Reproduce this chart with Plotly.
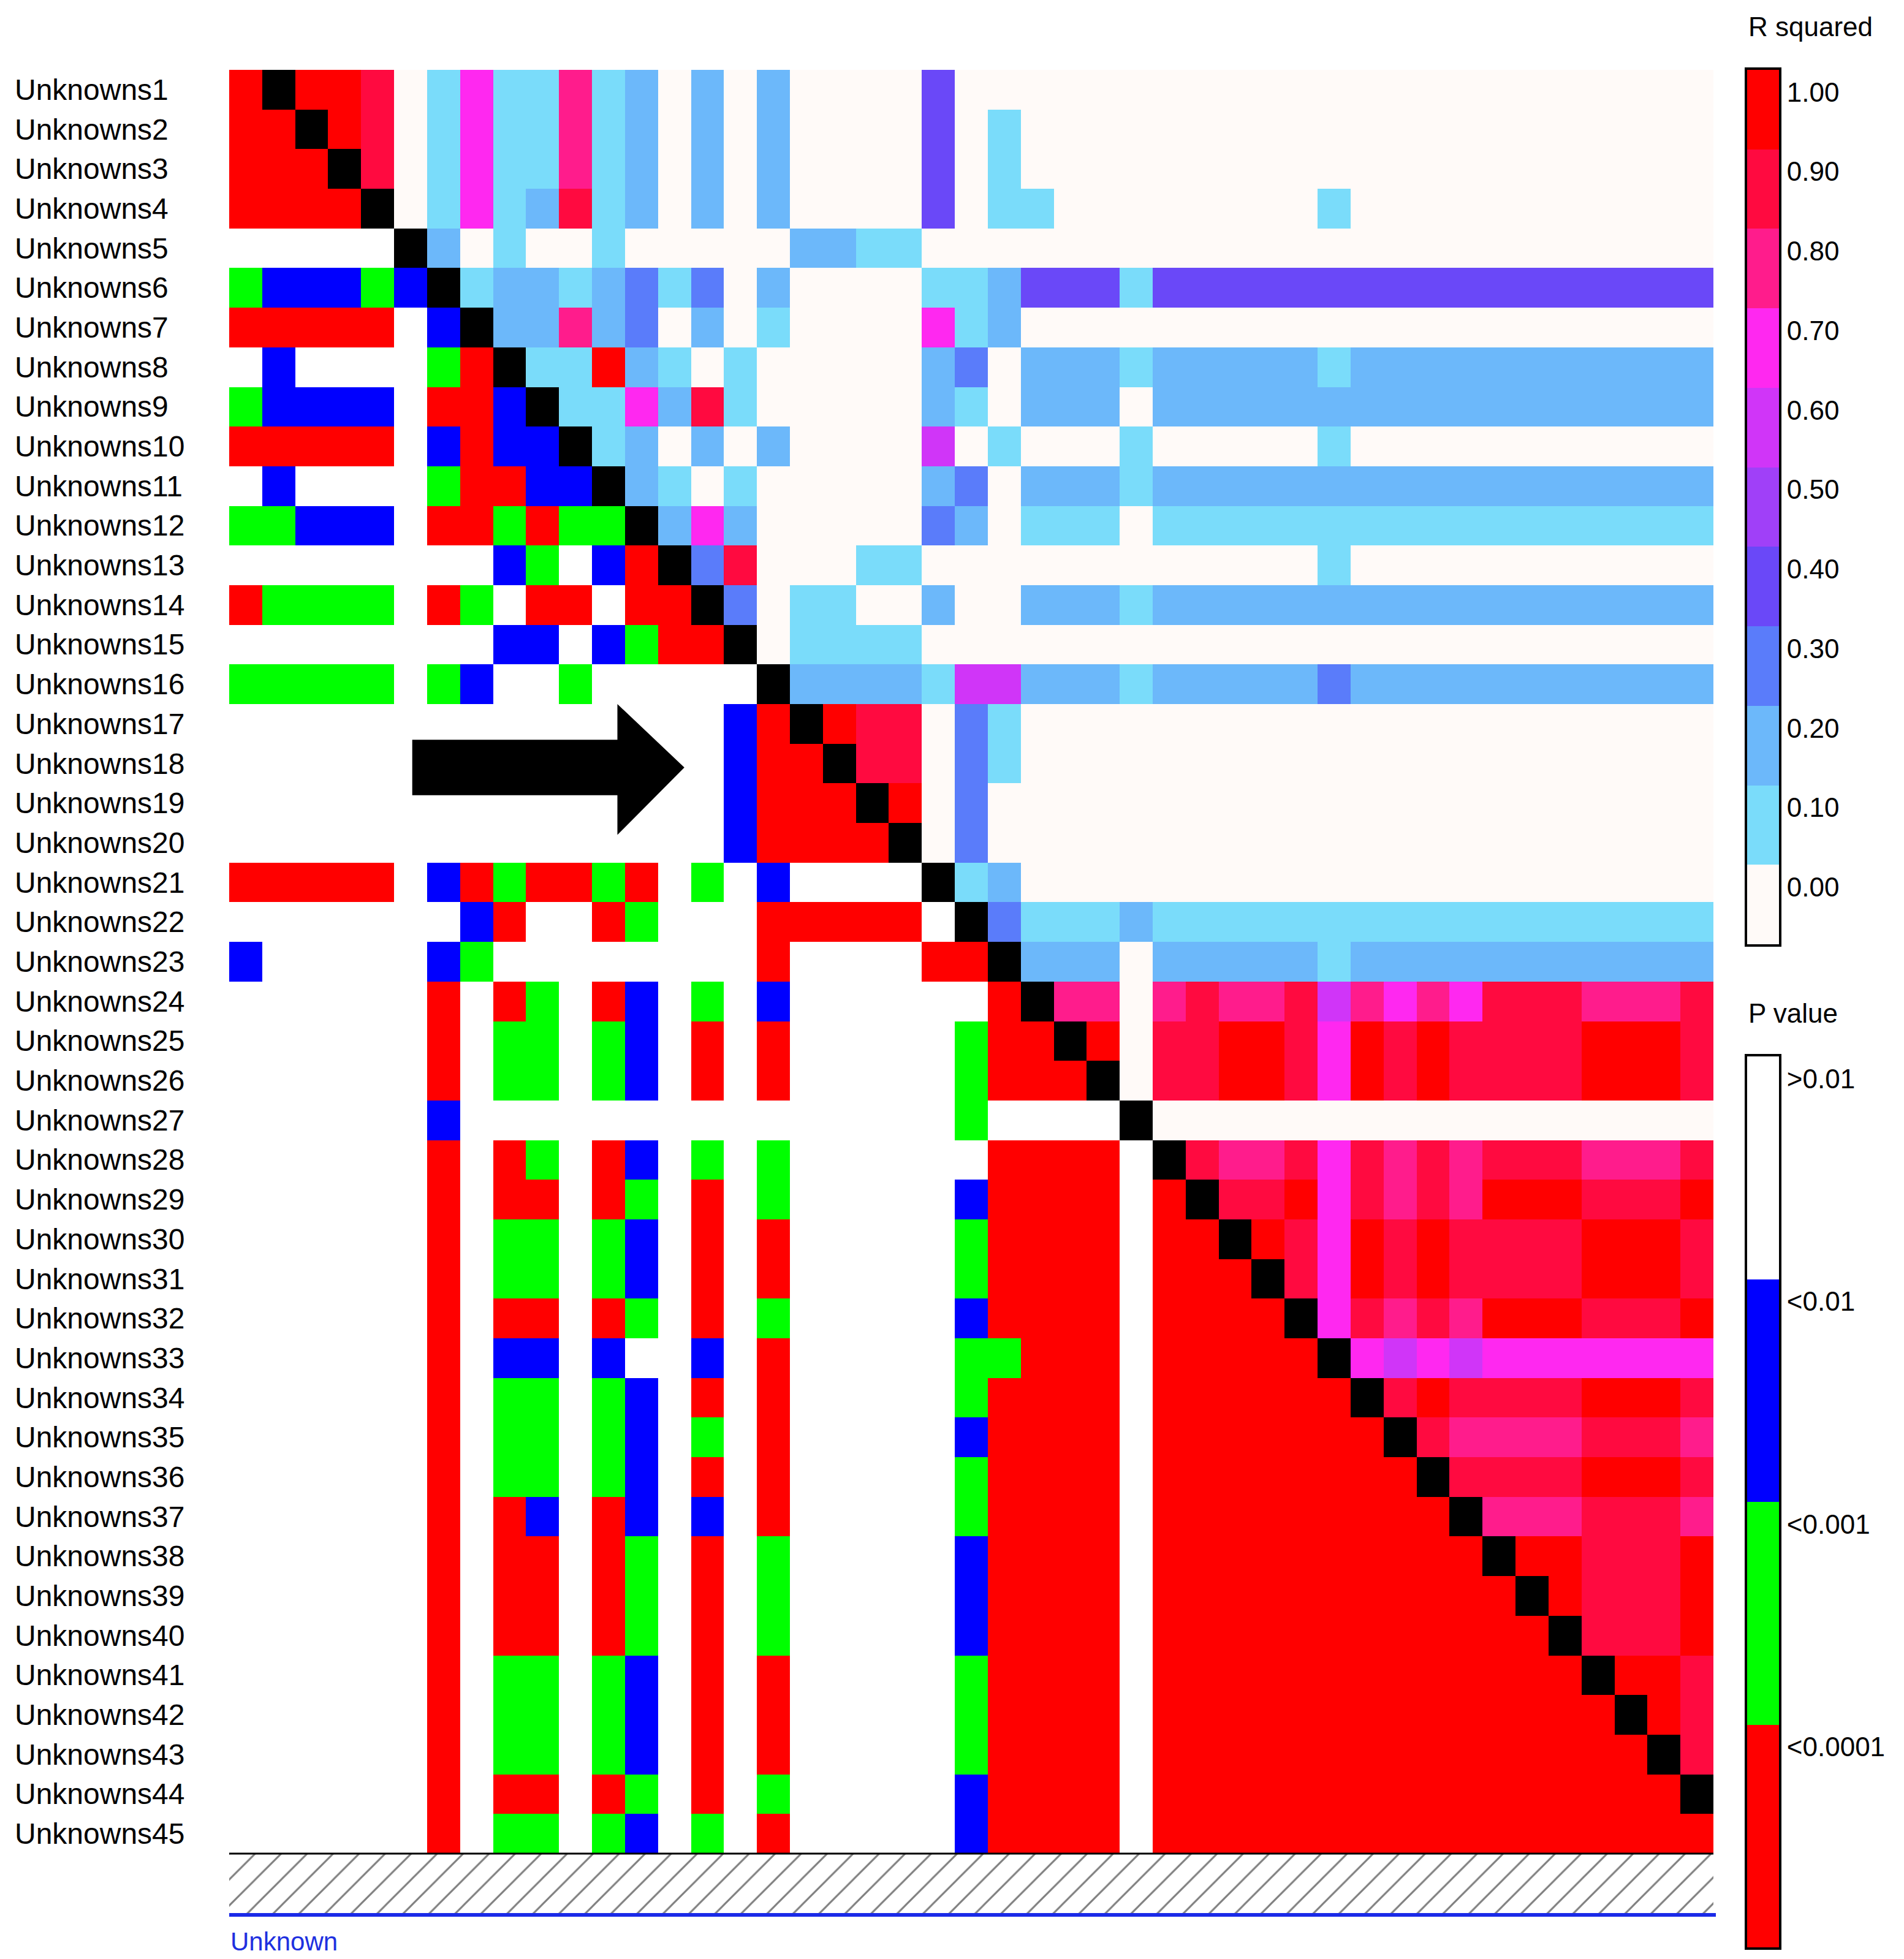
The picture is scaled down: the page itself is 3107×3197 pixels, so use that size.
import plotly.graph_objects as go

W, H = 3107, 3197

# marker names
markers = [f"Unknowns{i}" for i in range(1, 46)]

# one string per row; left of the black cell = P value class (w/b/g/r),
# k = diagonal, right of it = R squared bin ('0'..'9', 'X' = 1.0)
rows = [
    "rkXX9" + "0171181202020000" + "4" + "0" * 23,
    "rrkX9" + "0171181202020000" + "4" + "0" + "1" + "0" * 21,
    "rrrk9" + "0171181202020000" + "4" + "0" + "1" + "0" * 21,
    "rrrrk" + "0171291202020000" + "4" + "0" + "11" + "0" * 8 + "1" + "0" * 11,
    "wwwwwk" + "201001000002211" + "0" * 24,
    "gbbbgbk" + "12212313020000" + "112" + "444" + "1" + "4" * 17,
    "rrrrrwbk" + "2282302010000" + "712" + "0" * 21,
    "wbwwwwgrk" + "11X210100000" + "230" + "222" + "1" + "22222" + "1" + "2" * 11,
    "gbbbbwrrbk" + "11729100000" + "210" + "222" + "0" + "2" * 17,
    "rrrrrwbrbbk" + "1202020000" + "601" + "000" + "1" + "00000" + "1" + "0" * 11,
    "wbwwwwgrrbbk" + "210100000" + "230" + "222" + "1" + "2" * 17,
    "ggbbbwrrgrggk" + "27200000" + "320" + "111" + "0" + "1" * 17,
    "wwwwwwwwbgwbrk" + "3900011" + "0" * 12 + "1" + "0" * 11,
    "rggggwrgwrrwrrk" + "301100" + "200" + "222" + "1" + "2" * 17,
    "wwwwwwwwbbwbgrrk" + "01111" + "0" * 24,
    "gggggwgbwwgwwwwwk" + "2222" + "166" + "222" + "1" + "22222" + "3" + "2" * 11,
    "w" * 15 + "brk" + "X99" + "031" + "0" * 21,
    "w" * 15 + "brrk" + "99" + "031" + "0" * 21,
    "w" * 15 + "brrrk" + "X" + "030" + "0" * 21,
    "w" * 15 + "brrrrk" + "030" + "0" * 21,
    "rrrrrw" + "brgrrgrwgwbwwww" + "k" + "12" + "0" * 21,
    "wwwwwww" + "brwwrg" + "www" + "rrrrr" + "wk" + "3" + "111" + "2" + "1" * 17,
    "bwwwww" + "bg" + "w" * 8 + "r" + "wwww" + "rrk" + "222" + "0" + "22222" + "1" + "2" * 11,
    "w" * 6 + "rwrgwrbwgwb" + "w" * 6 + "rk" + "88" + "0" + "89889687879998889",
    "w" * 6 + "rwggwgbwrwr" + "wwwww" + "g" + "rrk" + "X" + "0" + "99XX97X9X9999XXX9",
    "w" * 6 + "rwggwgbwrwr" + "wwwww" + "g" + "rrrk" + "0" + "99XX97X9X9999XXX9",
    "w" * 6 + "b" + "w" * 15 + "g" + "wwww" + "k" + "0" * 17,
    "w" * 6 + "rwrgwrbwgwg" + "w" * 6 + "rrrrwk" + "9889798989998889",
    "w" * 6 + "rwrrwrgwrwg" + "wwwww" + "b" + "rrrrw" + "r" + "k" + "99X79898XXX999X",
    "w" * 6 + "rwggwgbwrwr" + "wwwww" + "g" + "rrrrw" + "rr" + "k" + "X97X9X9999XXX9",
    "w" * 6 + "rwggwgbwrwr" + "wwwww" + "g" + "rrrrw" + "rrr" + "k" + "97X9X9999XXX9",
    "w" * 6 + "rwrrwrgwrwg" + "wwwww" + "b" + "rrrrw" + "rrrr" + "k" + "79898XXX999X",
    "w" * 6 + "rwbbwbwwbwr" + "wwwww" + "gg" + "rrrw" + "rrrrr" + "k" + "76767777777",
    "w" * 6 + "rwggwgbwrwr" + "wwwww" + "g" + "rrrrw" + "r" * 6 + "k" + "9X9999XXX9",
    "w" * 6 + "rwggwgbwgwr" + "wwwww" + "b" + "rrrrw" + "r" * 7 + "k" + "988889998",
    "w" * 6 + "rwggwgbwrwr" + "wwwww" + "g" + "rrrrw" + "r" * 8 + "k" + "9999XXX9",
    "w" * 6 + "rwrbwrbwbwr" + "wwwww" + "g" + "rrrrw" + "r" * 9 + "k" + "8889998",
    "w" * 6 + "rwrrwrgwrwg" + "wwwww" + "b" + "rrrrw" + "r" * 10 + "k" + "XX999X",
    "w" * 6 + "rwrrwrgwrwg" + "wwwww" + "b" + "rrrrw" + "r" * 11 + "k" + "X999X",
    "w" * 6 + "rwrrwrgwrwg" + "wwwww" + "b" + "rrrrw" + "r" * 12 + "k" + "999X",
    "w" * 6 + "rwggwgbwrwr" + "wwwww" + "g" + "rrrrw" + "r" * 13 + "k" + "XX9",
    "w" * 6 + "rwggwgbwrwr" + "wwwww" + "g" + "rrrrw" + "r" * 14 + "k" + "X9",
    "w" * 6 + "rwggwgbwrwr" + "wwwww" + "g" + "rrrrw" + "r" * 15 + "k" + "9",
    "w" * 6 + "rwrrwrgwrwg" + "wwwww" + "b" + "rrrrw" + "r" * 16 + "k",
    "w" * 6 + "rwggwgbwgwr" + "wwwww" + "b" + "rrrrw" + "r" * 17,
]
for r in rows:
    assert len(r) == 45, (r, len(r))

codes = "0123456789Xwbgrk"
colors = ["#fffaf8", "#7adcfa", "#6cb8fa", "#5a7cfa", "#6a48f8", "#a040f8",
          "#d035f8", "#ff28f0", "#ff1c8c", "#ff0a40", "#ff0000",
          "#ffffff", "#0000ff", "#00ff00", "#ff0000", "#000000"]

rsq_labels = ["1.00", "0.90", "0.80", "0.70", "0.60", "0.50", "0.40", "0.30", "0.20", "0.10", "0.00"]
rsq_codes = [10, 9, 8, 7, 6, 5, 4, 3, 2, 1, 0]
p_labels = [">0.01", "<0.01", "<0.001", "<0.0001"]
p_codes = [11, 12, 13, 14]

n = len(colors)
cscale = []
for i, c in enumerate(colors):
    cscale += [[i / n, c], [(i + 1) / n, c]]

z = [[codes.index(ch) for ch in r] for r in rows]
idx = list(range(1, 46))


def px(x):
    return x / W


def py(y):
    return 1 - y / H


fig = go.Figure()
fig.add_trace(go.Heatmap(z=z, x=idx, y=idx, colorscale=cscale, zmin=-0.5, zmax=n - 0.5,
                         showscale=False, xaxis="x", yaxis="y"))
fig.add_trace(go.Heatmap(z=[[c] for c in rsq_codes], y=list(range(len(rsq_codes))), x=[0],
                         colorscale=cscale, zmin=-0.5, zmax=n - 0.5, showscale=False,
                         xaxis="x2", yaxis="y2"))
fig.add_trace(go.Heatmap(z=[[c] for c in p_codes], y=list(range(len(p_codes))), x=[0],
                         colorscale=cscale, zmin=-0.5, zmax=n - 0.5, showscale=False,
                         xaxis="x3", yaxis="y3"))
fig.add_trace(go.Bar(x=[0], y=[1], width=[1], xaxis="x4", yaxis="y4",
                     marker=dict(color="white", line=dict(width=0),
                                 pattern=dict(shape="/", fgcolor="black", bgcolor="white",
                                              size=30, solidity=0.1))))

font = "Liberation Sans"
hidden = dict(showgrid=False, zeroline=False, showticklabels=False, ticks="")
strip = dict(showgrid=False, zeroline=False, showline=True, linecolor="black", linewidth=4, mirror=True)
fig.update_layout(
    width=W, height=H, margin=dict(l=0, r=0, t=0, b=0),
    paper_bgcolor="white", plot_bgcolor="white", showlegend=False,
    font=dict(family=font, size=46, color="black"),
    xaxis=dict(domain=[px(366), px(2788)], range=[0.5, 45.5], **hidden),
    yaxis=dict(domain=[py(3017), py(106)], range=[45.5, 0.5], **hidden),
    xaxis2=dict(domain=[px(2843), px(2895)], range=[-0.5, 0.5], showticklabels=False, ticks="",
                anchor="y2", **strip),
    yaxis2=dict(domain=[py(1533), py(106)], range=[10.5, -0.5], anchor="x2", side="right",
                tickvals=[i - 0.22 for i in range(11)], ticktext=rsq_labels, ticks="",
                tickfont=dict(size=44), **strip),
    xaxis3=dict(domain=[px(2843), px(2895)], range=[-0.5, 0.5], showticklabels=False, ticks="",
                anchor="y3", **strip),
    yaxis3=dict(domain=[py(3170), py(1716)], range=[3.5, -0.5], anchor="x3", side="right",
                tickvals=[i - 0.4 for i in range(4)], ticktext=p_labels, ticks="",
                tickfont=dict(size=44), **strip),
    xaxis4=dict(domain=[px(366), px(2788)], range=[-0.5, 0.5], anchor="y4", **hidden),
    yaxis4=dict(domain=[py(3117), py(3017)], range=[0, 1], anchor="x4", **hidden),
)

for i, name in zip(idx, markers):
    fig.add_annotation(x=px(14), xref="paper", y=i, yref="y", text=name, showarrow=False,
                       xanchor="left", yanchor="middle", font=dict(size=48))

fig.add_annotation(x=px(2843), y=py(35), xref="paper", yref="paper", text="R squared",
                   showarrow=False, xanchor="left", yanchor="middle", font=dict(size=44))
fig.add_annotation(x=px(2843), y=py(1645), xref="paper", yref="paper", text="P value",
                   showarrow=False, xanchor="left", yanchor="middle", font=dict(size=44))
fig.add_annotation(x=px(366), y=py(3160), xref="paper", yref="paper", text="Unknown",
                   showarrow=False, xanchor="left", yanchor="middle",
                   font=dict(size=42, color="#2030e0"))

# frame lines around the hatched strip
fig.add_shape(type="line", xref="paper", yref="paper", x0=px(366), x1=px(2792),
              y0=py(3117), y1=py(3117), line=dict(color="#1a2ae8", width=6))
fig.add_shape(type="line", xref="paper", yref="paper", x0=px(366), x1=px(2788),
              y0=py(3017), y1=py(3017), line=dict(color="black", width=3))

# big arrow pointing at the block
fig.add_shape(type="path", xref="x", yref="y", fillcolor="black", line=dict(width=0),
              path="M 6.05 17.4 L 12.27 17.4 L 12.27 16.5 L 14.3 18.1 L 12.27 19.8 L 12.27 18.8 L 6.05 18.8 Z")

fig.write_html("out.html")
